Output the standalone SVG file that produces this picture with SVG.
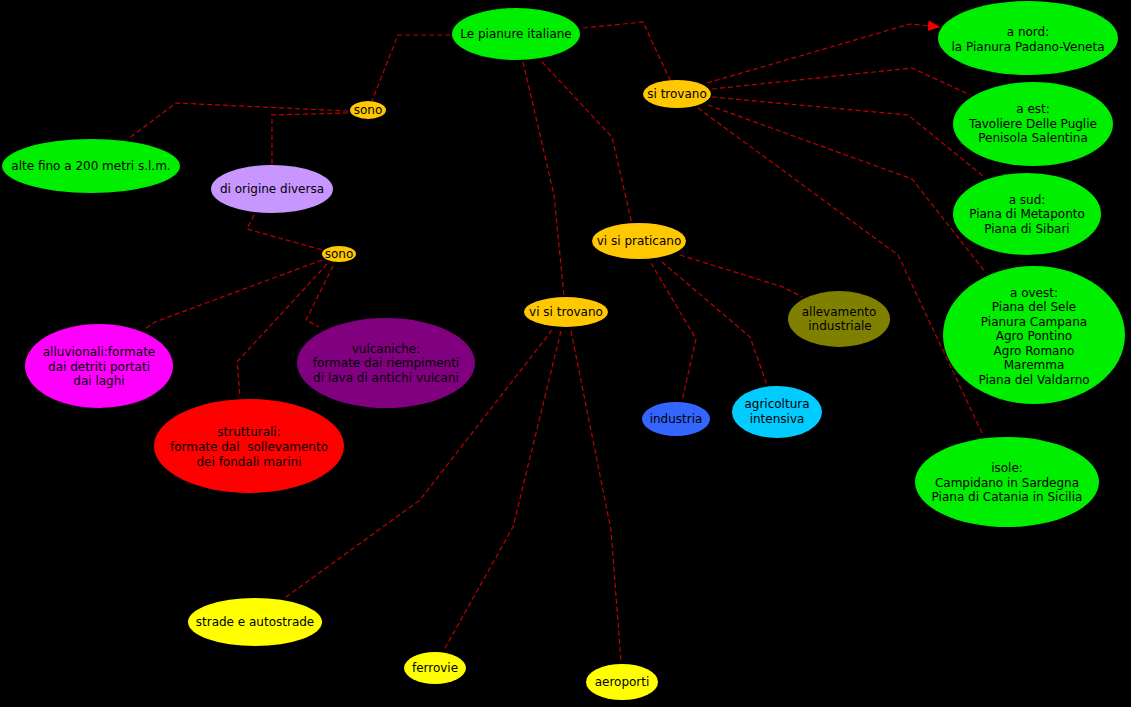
<svg xmlns="http://www.w3.org/2000/svg" width="1131" height="707" viewBox="0 0 1131 707">
<style>
  text { font-family: "DejaVu Sans", Verdana, sans-serif; font-size: 12px; fill: #000; text-anchor: middle; }
  .c { fill: none; stroke: #c00000; stroke-width: 1.2; stroke-dasharray: 5 3; }
  .green { fill: #00ee00; }
  .gold { fill: #ffc800; }
  .yellow { fill: #ffff00; }
</style>
<defs>
  <marker id="arrow" markerUnits="userSpaceOnUse" markerWidth="13" markerHeight="11" refX="12" refY="5.5" orient="auto">
    <path d="M0,0 L12,5.5 L0,11 z" fill="#ee0000"/>
  </marker>
</defs>
<rect width="1131" height="707" fill="#000"/>

<g id="connectors">
  <polyline class="c" points="450,35 398,35 372,101"/>
  <polyline class="c" points="348,111 176,103 128,139"/>
  <polyline class="c" points="348,113 272,115 272,164"/>
  <polyline class="c" points="254,215 247,229 322,250"/>
  <polyline class="c" points="322,260 155,322 145,329"/>
  <polyline class="c" points="327,264 237,362 240,397"/>
  <polyline class="c" points="333,266 306,320 319,327"/>
  <polyline class="c" points="583,28 643,22 670,80"/>
  <polyline class="c" points="523,62 554,195 564,296"/>
  <polyline class="c" points="542,62 612,137 632,224"/>
  <polyline class="c" points="707,83 910,24 940,27" marker-end="url(#arrow)"/>
  <polyline class="c" points="712,89 912,68 970,95"/>
  <polyline class="c" points="712,97 908,115 983,176"/>
  <polyline class="c" points="708,105 912,179 986,273"/>
  <polyline class="c" points="698,108 898,255 983,435"/>
  <polyline class="c" points="680,255 783,287 802,297"/>
  <polyline class="c" points="651,263 696,339 682,401"/>
  <polyline class="c" points="662,262 750,337 767,385"/>
  <polyline class="c" points="552,330 420,500 286,597"/>
  <polyline class="c" points="561,331 513,527 445,648"/>
  <polyline class="c" points="571,331 611,530 621,662"/>
</g>

<g id="n-pianure"><ellipse class="green" cx="516" cy="34" rx="64" ry="26"/><text x="516" y="38">Le pianure italiane</text></g>
<g id="n-sono1"><ellipse class="gold" cx="368" cy="110" rx="18" ry="9"/><text x="368" y="114">sono</text></g>
<g id="n-sitrovano"><ellipse class="gold" cx="677" cy="94" rx="34" ry="14"/><text x="677" y="98">si trovano</text></g>
<g id="n-alte"><ellipse class="green" cx="91" cy="166" rx="89" ry="27"/><text x="91" y="170">alte fino a 200 metri s.l.m.</text></g>
<g id="n-origine"><ellipse fill="#c896ff" cx="272" cy="189" rx="61" ry="24"/><text x="272" y="193">di origine diversa</text></g>
<g id="n-sono2"><ellipse class="gold" cx="339" cy="254" rx="17" ry="8"/><text x="339" y="258">sono</text></g>
<g id="n-alluvionali"><ellipse fill="#ff00ff" cx="99" cy="366" rx="74" ry="42"/>
  <text x="99" y="356">alluvionali:formate</text><text x="99" y="371">dai detriti portati</text><text x="99" y="385">dai laghi</text></g>
<g id="n-strutturali"><ellipse fill="#ff0000" cx="249" cy="446" rx="95" ry="47"/>
  <text x="249" y="436">strutturali:</text><text x="249" y="451" xml:space="preserve">formate dal  sollevamento</text><text x="249" y="466">dei fondali marini</text></g>
<g id="n-vulcaniche"><ellipse fill="#800080" cx="386" cy="363" rx="89" ry="45"/>
  <text x="386" y="353">vulcaniche:</text><text x="386" y="367">formate dai riempimenti</text><text x="386" y="382">di lava di antichi vulcani</text></g>
<g id="n-praticano"><ellipse class="gold" cx="639" cy="241" rx="47" ry="18"/><text x="639" y="245">vi si praticano</text></g>
<g id="n-visitrovano"><ellipse class="gold" cx="566" cy="312" rx="42" ry="15"/><text x="566" y="316">vi si trovano</text></g>
<g id="n-allevamento"><ellipse fill="#808000" cx="839" cy="319" rx="51" ry="28"/>
  <text x="839" y="316">allevamento</text><text x="840" y="330">industriale</text></g>
<g id="n-industria"><ellipse fill="#3366ff" cx="676" cy="419" rx="34" ry="17"/><text x="676" y="423">industria</text></g>
<g id="n-agricoltura"><ellipse fill="#00ccff" cx="777" cy="412" rx="45" ry="26"/>
  <text x="777" y="408">agricoltura</text><text x="777" y="423">intensiva</text></g>
<g id="n-nord"><ellipse class="green" cx="1028" cy="38" rx="90" ry="37"/>
  <text x="1028" y="36">a nord:</text><text x="1028" y="51">la Pianura Padano-Veneta</text></g>
<g id="n-est"><ellipse class="green" cx="1033" cy="124" rx="80" ry="42"/>
  <text x="1033" y="113">a est:</text><text x="1033" y="128">Tavoliere Delle Puglie</text><text x="1033" y="142">Penisola Salentina</text></g>
<g id="n-sud"><ellipse class="green" cx="1027" cy="214" rx="74" ry="41"/>
  <text x="1027" y="204">a sud:</text><text x="1027" y="218">Piana di Metaponto</text><text x="1027" y="233">Piana di Sibari</text></g>
<g id="n-ovest"><ellipse class="green" cx="1034" cy="335" rx="91" ry="69"/>
  <text x="1034" y="297">a ovest:</text><text x="1034" y="311">Piana del Sele</text><text x="1034" y="326">Pianura Campana</text>
  <text x="1034" y="340">Agro Pontino</text><text x="1034" y="355">Agro Romano</text><text x="1034" y="369">Maremma</text><text x="1034" y="384">Piana del Valdarno</text></g>
<g id="n-isole"><ellipse class="green" cx="1007" cy="482" rx="92" ry="45"/>
  <text x="1007" y="472">isole:</text><text x="1007" y="487">Campidano in Sardegna</text><text x="1007" y="501">Piana di Catania in Sicilia</text></g>
<g id="n-strade"><ellipse class="yellow" cx="255" cy="622" rx="67" ry="24"/><text x="255" y="626">strade e autostrade</text></g>
<g id="n-ferrovie"><ellipse class="yellow" cx="435" cy="668" rx="31" ry="16"/><text x="435" y="672">ferrovie</text></g>
<g id="n-aeroporti"><ellipse class="yellow" cx="622" cy="682" rx="36" ry="18"/><text x="622" y="686">aeroporti</text></g>
</svg>
